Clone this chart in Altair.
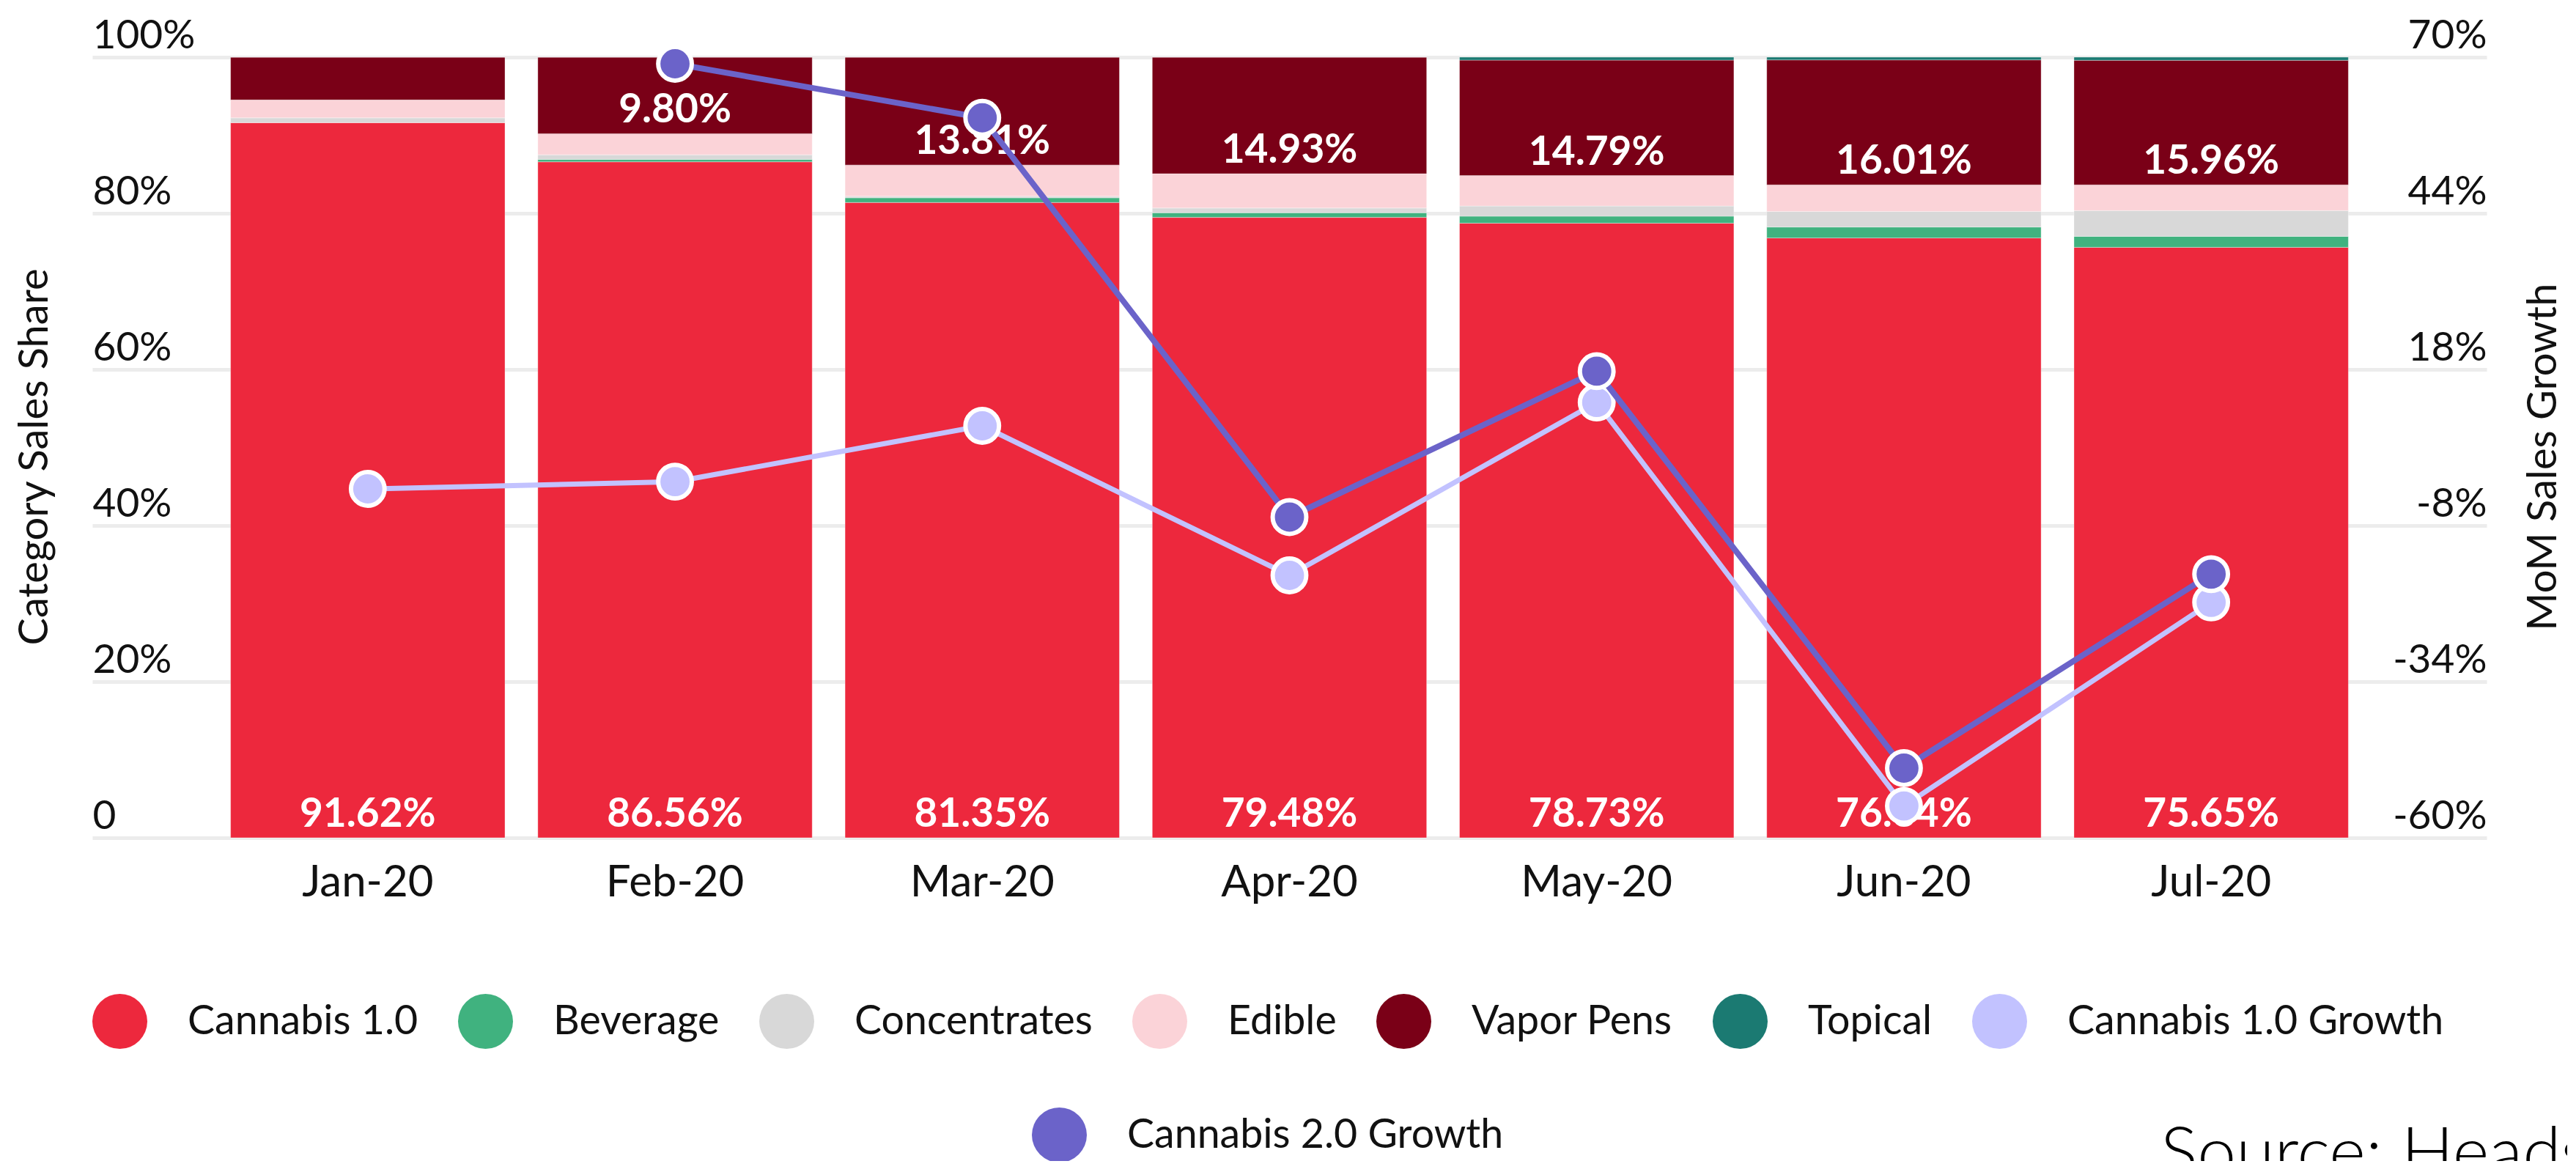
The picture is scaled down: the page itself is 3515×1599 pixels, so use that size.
import altair as alt
import pandas as pd

months = ["Jan-20", "Feb-20", "Mar-20", "Apr-20", "May-20", "Jun-20", "Jul-20"]
categories = ["Cannabis 1.0", "Beverage", "Concentrates", "Edible", "Vapor Pens", "Topical"]
cannabis_1 = [91.62, 86.56, 81.35, 79.48, 78.73, 76.84, 75.65]
beverage = [0.0, 0.3, 0.6, 0.6, 0.9, 1.4, 1.4]
concentrates = [0.6, 0.6, 0.2, 0.6, 1.3, 2.0, 3.3]
edible = [2.3, 2.7, 4.0, 4.4, 3.9, 3.4, 3.3]
vapor_pens = [5.48, 9.80, 13.81, 14.93, 14.79, 16.01, 15.96]
topical = [0.0, 0.0, 0.0, 0.0, 0.38, 0.35, 0.40]
growth_1 = [-1.9, -0.7, 8.6, -16.3, 12.5, -54.7, -20.8]
growth_2 = [None, 68.9, 59.9, -6.6, 17.7, -48.4, -16.1]

share_ticks = [0, 0.2, 0.4, 0.6, 0.8, 1.0]
growth_ticks = [-60, -34, -8, 18, 44, 70]

cat_colors = ["#ED283D", "#40B27F", "#D8D8D8", "#FBD3D8", "#7A0017", "#1B7A72"]
g1_color = "#C2C2FF"
g2_color = "#6B63C9"

series = [cannabis_1, beverage, concentrates, edible, vapor_pens, topical]
rows = []
for ci, (cat, vals) in enumerate(zip(categories, series)):
    for mi, m in enumerate(months):
        rows.append({"month": m, "category": cat, "value": vals[mi], "order": ci})
bars_df = pd.DataFrame(rows)

growth_df = pd.DataFrame({
    "month": months,
    "g1": growth_1,
    "g2": growth_2,
    "s1": ["Cannabis 1.0 Growth"] * len(months),
    "s2": ["Cannabis 2.0 Growth"] * len(months),
})

FONT = "Lato"
W, H = 3267, 1065

x_axis = alt.Axis(title=None, labelAngle=0, domain=False, ticks=False, labelPadding=32,
                  labelFontSize=60, labelColor="#111111", labelFont=FONT, grid=False,
                  labelLimit=1000)
x_enc = alt.X("month:N", sort=months,
              scale=alt.Scale(paddingInner=0.107, paddingOuter=0.45), axis=x_axis)

color_scale = alt.Scale(domain=categories + ["Cannabis 1.0 Growth"],
                        range=cat_colors + [g1_color])
color_legend = alt.Legend(title=None, orient="none", legendX=0, legendY=1278,
                          direction="horizontal", columns=7)

left_axis = alt.Axis(values=share_ticks,
                     labelExpr="datum.value == 0 ? '0' : format(datum.value, '.0%')",
                     grid=True, gridColor="#ECECEC", gridWidth=5, ticks=False, domain=False,
                     labelAlign="left", labelPadding=0, labelBaseline="alphabetic",
                     labelOffset=-13, labelFontSize=55, labelColor="#111111",
                     title="Category Sales Share", titleX=-79, titleY=545, titleAngle=270,
                     titleAlign="center", titleBaseline="middle", titleFontSize=56,
                     titleFontWeight="normal", titleColor="#111111")

right_axis = alt.Axis(orient="right", values=growth_ticks, labelExpr="datum.value + '%'",
                      grid=False, ticks=False, domain=False, labelAlign="right",
                      labelPadding=0, labelBaseline="alphabetic", labelOffset=-13,
                      labelFontSize=55, labelColor="#111111",
                      title="MoM Sales Growth", titleX=77, titleY=545, titleAngle=270,
                      titleAlign="center", titleBaseline="middle", titleFontSize=56,
                      titleFontWeight="normal", titleColor="#111111")

share_scale = alt.Scale(domain=[0, 1], nice=False, zero=True)
growth_scale = alt.Scale(domain=[-60, 70], nice=False, zero=False)

base = alt.Chart(bars_df).transform_stack(
    stack="value", groupby=["month"], as_=["v0", "v1"], offset="normalize",
    sort=[alt.SortField("order", order="ascending")]
)

bars = base.mark_bar(stroke="white", strokeWidth=1, strokeOpacity=0.35).encode(
    x=x_enc,
    y=alt.Y("v0:Q", scale=share_scale, axis=left_axis),
    y2="v1:Q",
    color=alt.Color("category:N", scale=color_scale, legend=color_legend),
    order=alt.Order("order:Q"),
)

labels = base.transform_filter(
    "(datum.category == 'Cannabis 1.0' || datum.category == 'Vapor Pens') && datum.value >= 9"
).transform_calculate(
    label="format(datum.value, '.2f') + '%'"
).mark_text(color="white", font=FONT, fontWeight="bold", fontSize=55,
            baseline="alphabetic", dy=-15).encode(
    x=x_enc,
    y=alt.Y("v0:Q", scale=share_scale, axis=left_axis),
    text="label:N",
)

line1 = alt.Chart(growth_df).mark_line(color=g1_color, strokeWidth=7).encode(
    x=x_enc, y=alt.Y("g1:Q", scale=growth_scale, axis=right_axis))
pts1 = alt.Chart(growth_df).mark_circle(size=2100, stroke="white", strokeWidth=6, opacity=1).encode(
    x=x_enc, y=alt.Y("g1:Q", scale=growth_scale, axis=right_axis),
    color=alt.Color("s1:N", scale=color_scale, legend=color_legend))
line2 = alt.Chart(growth_df).mark_line(color=g2_color, strokeWidth=8).encode(
    x=x_enc, y=alt.Y("g2:Q", scale=growth_scale, axis=right_axis))
pts2 = alt.Chart(growth_df).mark_circle(size=2100, stroke="white", strokeWidth=6, opacity=1).encode(
    x=x_enc, y=alt.Y("g2:Q", scale=growth_scale, axis=right_axis),
    fill=alt.Fill("s2:N", scale=alt.Scale(domain=["Cannabis 2.0 Growth"], range=[g2_color]),
                  legend=alt.Legend(title=None, orient="none", legendX=1282, legendY=1433,
                                    direction="horizontal")))

share_layer = alt.layer(bars, labels)
growth_layer = alt.layer(line1, pts1, line2, pts2)

chart = alt.layer(share_layer, growth_layer).resolve_scale(y="independent").properties(
    width=W, height=H,
    autosize=alt.AutoSizeParams(type="none"),
    padding={"left": 118, "top": 70, "right": 110, "bottom": 441},
    title=alt.TitleParams("Source: Headset", orient="bottom", anchor="start", frame="group",
                          dx=2822, dy=-56, offset=0, baseline="top", font=FONT,
                          fontSize=95, fontWeight=300, color="#000000"),
).configure_view(stroke=None).configure_axis(
    labelFont=FONT, titleFont=FONT
).configure_legend(
    symbolType="circle", symbolSize=5625, symbolStrokeWidth=0, symbolOpacity=1,
    labelFont=FONT, labelFontSize=55.5, labelColor="#111111", labelOffset=55,
    columnPadding=54, labelLimit=1000, padding=0,
)

chart.save("out.html", embed_options={"renderer": "svg", "actions": False})
